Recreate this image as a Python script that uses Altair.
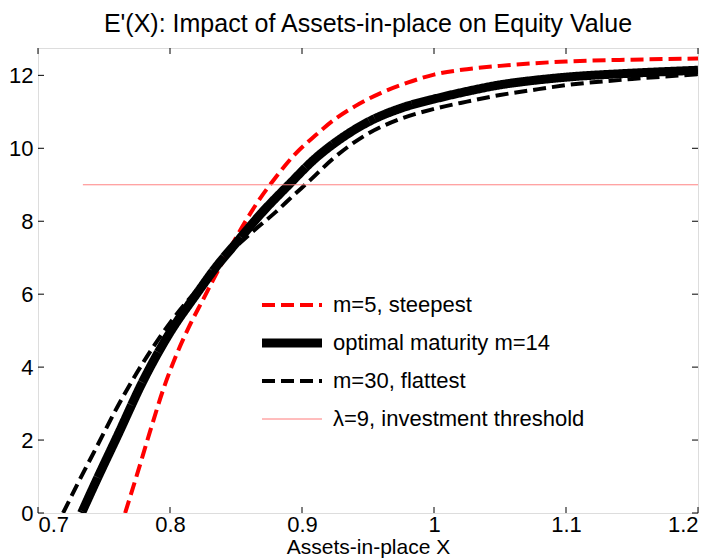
import altair as alt
import pandas as pd

# ---- data ----
series_names = ["m=5, steepest", "optimal maturity m=14", "m=30, flattest", "λ=9, investment threshold"]

red_x = [0.766, 0.775, 0.785, 0.795, 0.805, 0.815, 0.825, 0.835, 0.85, 0.865, 0.88, 0.895,
         0.91, 0.925, 0.94, 0.96, 0.98, 1.0, 1.025, 1.05, 1.075, 1.1, 1.15, 1.2]
red_y = [0.0, 1.05, 2.25, 3.4, 4.35, 5.15, 5.85, 6.55, 7.55, 8.45, 9.2, 9.85,
         10.35, 10.8, 11.15, 11.52, 11.8, 12.02, 12.17, 12.26, 12.33, 12.38, 12.43, 12.46]

opt_x = [0.733, 0.745, 0.76, 0.78, 0.80, 0.82, 0.835, 0.85, 0.87, 0.89, 0.91, 0.93, 0.95,
         0.975, 1.0, 1.025, 1.05, 1.075, 1.1, 1.15, 1.2]
opt_y = [0.0, 0.95, 2.1, 3.65, 4.95, 6.0, 6.75, 7.4, 8.25, 9.0, 9.72, 10.28, 10.72,
         11.1, 11.35, 11.56, 11.74, 11.86, 11.95, 12.06, 12.14]

flat_x = [0.719, 0.73, 0.745, 0.76, 0.775, 0.79, 0.805, 0.82, 0.835, 0.85, 0.866, 0.88,
          0.893, 0.906, 0.923, 0.949, 0.974, 1.0, 1.025, 1.05, 1.075, 1.1, 1.15, 1.2]
flat_y = [0.0, 0.8, 1.85, 2.9, 3.85, 4.7, 5.45, 6.1, 6.72, 7.3, 7.82, 8.25,
          8.69, 9.12, 9.7, 10.38, 10.8, 11.08, 11.28, 11.46, 11.6, 11.73, 11.9, 12.03]

thr_x = [0.734, 1.2]
thr_y = [9.0, 9.0]

x_ticks = [0.7, 0.8, 0.9, 1.0, 1.1, 1.2]
y_ticks = [0, 2, 4, 6, 8, 10, 12]

colors = ["#ff0000", "#000000", "#000000", "#ff7a7a"]
dashes = [[13, 6], [1, 0], [13, 6], [1, 0]]

rows = []
for name, xs, ys in zip(series_names, [red_x, opt_x, flat_x, thr_x], [red_y, opt_y, flat_y, thr_y]):
    for i, (a, b) in enumerate(zip(xs, ys)):
        rows.append({"x": a, "y": b, "series": name, "i": i})
df = pd.DataFrame(rows)

W, H = 660, 465
FONT = "Liberation Sans"

xscale = alt.Scale(domain=[0.7, 1.2], nice=False, zero=False)
yscale = alt.Scale(domain=[0, 12.75], nice=False)

sw_expr = ("datum.value === 'optimal maturity m=14' ? 9 : "
           "(datum.value === 'λ=9, investment threshold' ? 1 : 4)")

stroke_w = (alt.when(alt.datum.series == "optimal maturity m=14").then(alt.value(9))
            .when(alt.datum.series == "λ=9, investment threshold").then(alt.value(1))
            .otherwise(alt.value(4)))

lines = alt.Chart(df).mark_line(clip=True, interpolate="monotone").encode(
    x=alt.X("x:Q", scale=xscale,
            axis=alt.Axis(values=x_ticks, labelExpr="datum.value == 1 ? '1' : format(datum.value, '.1f')",
                          ticks=False, domain=False, grid=False, labelFontSize=22, labelPadding=1,
                          labelColor="black", title="Assets-in-place X", titleFontSize=21,
                          titleFontWeight="normal", titleColor="black", titlePadding=1,
                          labelFont=FONT, titleFont=FONT)),
    y=alt.Y("y:Q", scale=yscale,
            axis=alt.Axis(values=y_ticks, ticks=False, domain=False, grid=False, labelFontSize=22,
                          labelPadding=5, labelColor="black", title=None, labelFont=FONT)),
    color=alt.Color("series:N", scale=alt.Scale(domain=series_names, range=colors),
                    legend=alt.Legend(
                        title=None, orient="none", legendX=243, legendY=246,
                        symbolType="M-2,0H2", symbolSize=900,
                        symbolStrokeWidth=alt.ExprRef(sw_expr),
                        labelFontSize=22, labelFont=FONT, labelColor="black", labelOffset=30,
                        labelLimit=0, gridAlign="all", rowPadding=2, padding=0)),
    strokeDash=alt.StrokeDash("series:N", scale=alt.Scale(domain=series_names, range=dashes)),
    strokeWidth=stroke_w,
    order="i:Q",
    detail="series:N",
)

xt = pd.DataFrame({"v": x_ticks})
yt = pd.DataFrame({"v": y_ticks})
tick_len = 6
left_ticks = alt.Chart(yt).mark_rule(color="black", strokeWidth=1).encode(
    y=alt.Y("v:Q", scale=yscale), x=alt.value(0), x2=alt.value(tick_len))
right_ticks = alt.Chart(yt).mark_rule(color="black", strokeWidth=1).encode(
    y=alt.Y("v:Q", scale=yscale), x=alt.value(W - tick_len), x2=alt.value(W))
bottom_ticks = alt.Chart(xt).mark_rule(color="black", strokeWidth=1).encode(
    x=alt.X("v:Q", scale=xscale), y=alt.value(H - tick_len), y2=alt.value(H))
top_ticks = alt.Chart(xt).mark_rule(color="black", strokeWidth=1).encode(
    x=alt.X("v:Q", scale=xscale), y=alt.value(0), y2=alt.value(tick_len))

chart = alt.layer(lines, left_ticks, right_ticks, bottom_ticks, top_ticks).properties(
    width=W, height=H,
    title=alt.TitleParams("E'(X): Impact of Assets-in-place on Equity Value", fontSize=25,
                          font=FONT, fontWeight="normal", color="black", offset=11, anchor="middle"),
    autosize=alt.AutoSizeParams(type="none"),
    padding={"left": 30, "top": 40, "right": 7, "bottom": 45},
).configure_view(stroke="black", strokeWidth=1).configure(background="white")

chart.save("out.html", embed_options={"renderer": "svg", "actions": False})
